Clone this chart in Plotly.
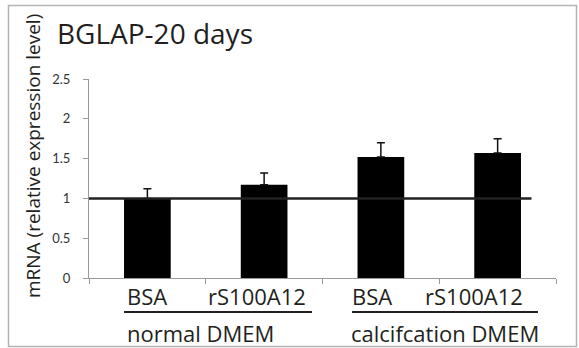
import plotly.graph_objects as go

# ---- data ----
conditions = ["BSA", "rS100A12", "BSA", "rS100A12"]
media_groups = ["normal DMEM", "calcifcation DMEM"]
mrna_values = [1.0, 1.17, 1.52, 1.57]
mrna_errors = [0.12, 0.15, 0.18, 0.18]
reference_level = 1.0
y_ticks = [0, 0.5, 1, 1.5, 2, 2.5]
title_text = "BGLAP-20 days"
y_title = "mRNA (relative expression level)"

# ---- geometry (pixels) ----
W, H = 579, 348
L, R, T, B = 89, 23, 79, 70
PW = W - L - R
PH = H - T - B
TXT = "#231f20"
FONT = "Open Sans"


def px(x):
    return (x - L) / PW


def py(y):
    return (H - B - y) / PH


x_idx = list(range(len(conditions)))

fig = go.Figure()
fig.add_trace(go.Bar(
    x=x_idx, y=mrna_values, width=0.4,
    marker=dict(color="#000000", line=dict(width=0)),
    error_y=dict(type="data", array=mrna_errors, arrayminus=[0] * len(mrna_errors),
                 symmetric=False, color="#111111", thickness=1.5, width=4),
    hoverinfo="skip", showlegend=False,
))

shapes = []
# reference line at y = 1
shapes.append(dict(type="line", xref="x", yref="y", x0=-0.5, x1=3.29,
                   y0=reference_level, y1=reference_level,
                   line=dict(color="#222222", width=2.5), layer="above"))
# underlines for groups
for x0, x1 in [(124, 312), (352, 538)]:
    shapes.append(dict(type="line", xref="paper", yref="paper",
                       x0=px(x0), x1=px(x1), y0=py(312), y1=py(312),
                       line=dict(color=TXT, width=2)))
# outer border
shapes.append(dict(type="rect", xref="paper", yref="paper",
                   x0=px(8.5), x1=px(576.5), y0=py(346.5), y1=py(5.5),
                   line=dict(color="#b4b4b4", width=1.5)))

annotations = []
cond_px = [146.5, 256.5, 371.5, 473.5]
for label, cx in zip(conditions, cond_px):
    annotations.append(dict(text=label, xref="paper", yref="paper",
                            x=px(cx), y=py(296), xanchor="center", yanchor="middle",
                            showarrow=False, font=dict(family=FONT, size=22, color=TXT)))
for label, cx in zip(media_groups, [200.5, 445]):
    annotations.append(dict(text=label, xref="paper", yref="paper",
                            x=px(cx), y=py(333), xanchor="center", yanchor="middle",
                            showarrow=False, font=dict(family=FONT, size=22, color=TXT)))
annotations.append(dict(text=title_text, xref="paper", yref="paper",
                        x=px(55), y=py(33), xanchor="left", yanchor="middle",
                        showarrow=False, font=dict(family=FONT, size=28, color=TXT)))
annotations.append(dict(text=y_title, xref="paper", yref="paper",
                        x=px(33), y=py(156), xanchor="center", yanchor="middle",
                        textangle=-90, showarrow=False,
                        font=dict(family=FONT, size=19, color=TXT)))

fig.update_layout(
    width=W, height=H,
    margin=dict(l=L, r=R, t=T, b=B, pad=0),
    paper_bgcolor="white", plot_bgcolor="white",
    font=dict(family=FONT, color=TXT),
    shapes=shapes, annotations=annotations,
    bargap=0.6,
    xaxis=dict(range=[-0.5, 3.5], tickvals=[-0.5, 0.5, 1.5, 2.5, 3.5],
               ticktext=[""] * 5, ticks="outside", ticklen=5, tickcolor="#999999",
               showline=True, linecolor="#999999", linewidth=1,
               showgrid=False, zeroline=False, fixedrange=True),
    yaxis=dict(range=[0, 2.5], tickvals=y_ticks, ticktext=[str(v) for v in y_ticks],
               ticks="outside", ticklen=5, tickcolor="#999999",
               showline=True, linecolor="#999999", linewidth=1,
               showgrid=False, zeroline=False, fixedrange=True,
               tickfont=dict(family="Lato", size=13, color="#333333"),
               ticklabelstandoff=10),
)

fig.write_html("out.html", config={"displayModeBar": False},
               post_script="document.body.style.margin='0';document.body.style.overflow='hidden';")
